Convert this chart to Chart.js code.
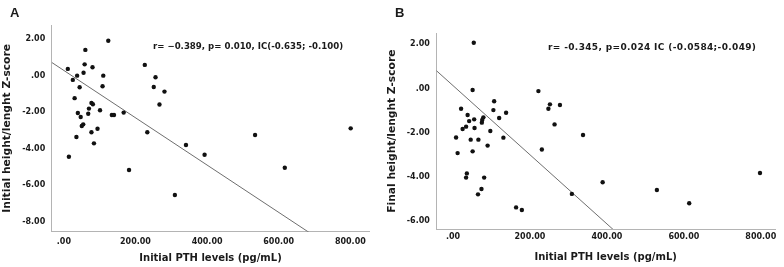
<!DOCTYPE html>
<html>
<head>
<meta charset="utf-8">
<script src="https://cdn.jsdelivr.net/npm/chart.js@4.4.1/dist/chart.umd.min.js"></script>
<style>
    html, body { margin: 0; padding: 0; background: #fff; }
    #wrap { position: relative; width: 784px; height: 267px; overflow: hidden; font-family: "DejaVu Sans", sans-serif; color: #1a1a1a; }
    canvas { position: absolute; top: 0; }
    #chartA { left: 0; }
    #chartB { left: 384px; }
    .panel { position: absolute; font: bold 13px "Liberation Sans", Arial, sans-serif; }
    .note { position: absolute; font-weight: bold; white-space: nowrap; }
</style>
</head>
<body>
<div id="wrap">
    <canvas id="chartA" width="384" height="267"></canvas>
    <canvas id="chartB" width="400" height="267"></canvas>
    <div class="panel" style="left:10px; top:5px;">A</div>
    <div class="panel" style="left:395px; top:5px;">B</div>
    <div class="note" style="left:153px; top:41px; font-size:8.6px;">r= −0.389, p= 0.010, IC(-0.635; -0.100)</div>
    <div class="note" style="left:548px; top:42px; font-size:9px; letter-spacing:0.35px;">r= -0.345, p=0.024 IC (-0.0584;-0.049)</div>
</div>
<script>
// panel A: initial PTH vs initial height z-score
const pthA = [124, 60, 11, 58, 80, 55, 37, 25, 110, 108, 44, 30, 77, 81, 70, 101,
    39, 68, 47, 134, 140, 167, 54, 50, 94, 77, 35, 84, 14, 182, 226, 256, 251,
    281, 267, 233, 310, 341, 393, 534, 617, 801];
const zInitial = [1.90, 1.40, 0.36, 0.61, 0.45, 0.15, -0.01, -0.24, -0.01, -0.59,
    -0.64, -1.24, -1.50, -1.57, -1.81, -1.90, -2.05, -2.09, -2.27, -2.16, -2.16,
    -2.03, -2.67, -2.76, -2.91, -3.10, -3.36, -3.71, -4.44, -5.17, 0.58, -0.10,
    -0.63, -0.88, -1.59, -3.10, -6.53, -3.80, -4.33, -3.25, -5.04, -2.89];

// panel B: initial PTH vs final height z-score
const pthB = [54, 51, 222, 107, 252, 278, 248, 21, 105, 138, 38, 120, 79, 55, 42,
    76, 75, 34, 56, 25, 264, 97, 8, 46, 66, 131, 338, 90, 231, 51, 12, 36, 34,
    81, 74, 65, 164, 179, 309, 389, 530, 614, 798];
const zFinal = [2.07, -0.07, -0.12, -0.58, -0.72, -0.75, -0.92, -0.92, -0.98,
    -1.10, -1.20, -1.34, -1.31, -1.40, -1.48, -1.43, -1.55, -1.73, -1.79, -1.84,
    -1.63, -1.93, -2.22, -2.32, -2.32, -2.23, -2.11, -2.59, -2.77, -2.85, -2.93,
    -3.85, -4.04, -4.04, -4.56, -4.80, -5.39, -5.51, -4.78, -4.25, -4.60, -5.20,
    -3.83];

// fitted lines (intercept, slope)
const fitA = { intercept: 0.275, slope: -0.01293 };
const fitB = { intercept: 0.13, slope: -0.01567 };

const xTicks = [0, 200, 400, 600, 800];
const yTicksA = [2, 0, -2, -4, -6, -8];
const yTicksB = [2, 0, -2, -4, -6];

const xTitle = "Initial PTH levels (pg/mL)";

function formatTick(value) {
    if (value === 0) return ".00";
    return value.toFixed(2);
}

function toPoints(xs, ys) {
    return xs.map(function (x, i) {
        return { x: x, y: ys[i] };
    });
}

function fitLine(fit, xMin, xMax) {
    return [
        { x: xMin, y: fit.intercept + fit.slope * xMin },
        { x: xMax, y: fit.intercept + fit.slope * xMax },
    ];
}

function makeChart(canvasId, cfg) {
    const tickFont = { family: "DejaVu Sans", size: 8, weight: "bold" };
    const xTitleFont = { family: "DejaVu Sans", size: 10, weight: "bold" };
    const yTitleFont = { family: "DejaVu Sans", size: 10.7, weight: "bold" };
    const axisBorder = { display: true, color: "#b4b4b4", width: 1 };

    return new Chart(document.getElementById(canvasId), {
        type: "scatter",
        data: {
            datasets: [
                {
                    data: toPoints(cfg.xs, cfg.ys),
                    backgroundColor: "#111",
                    borderColor: "#111",
                    pointRadius: 2.2,
                    pointBorderWidth: 0,
                },
                {
                    type: "line",
                    data: fitLine(cfg.fit, cfg.xMin, cfg.xMax),
                    borderColor: "#6e6e6e",
                    borderWidth: 1,
                    pointRadius: 0,
                    fill: false,
                },
            ],
        },
        options: {
            responsive: false,
            animation: false,
            events: [],
            layout: {
                padding: { left: 0, top: cfg.top, right: cfg.right, bottom: 0 },
            },
            plugins: {
                legend: { display: false },
                tooltip: { enabled: false },
            },
            scales: {
                x: {
                    type: "linear",
                    min: cfg.xMin,
                    max: cfg.xMax,
                    afterBuildTicks: function (axis) {
                        axis.ticks = xTicks.map(function (v) { return { value: v }; });
                    },
                    afterFit: function (axis) {
                        axis.height = cfg.xHeight;
                    },
                    grid: { display: false, drawTicks: false },
                    border: axisBorder,
                    ticks: {
                        padding: cfg.xTickPad,
                        color: "#1a1a1a",
                        font: tickFont,
                        maxRotation: 0,
                        autoSkip: false,
                        callback: formatTick,
                    },
                    title: {
                        display: true,
                        text: xTitle,
                        color: "#1a1a1a",
                        font: xTitleFont,
                        padding: { top: cfg.xTitlePad, bottom: cfg.xTitlePad },
                    },
                },
                y: {
                    type: "linear",
                    min: cfg.yMin,
                    max: cfg.yMax,
                    afterBuildTicks: function (axis) {
                        axis.ticks = cfg.yTicks.map(function (v) { return { value: v }; });
                    },
                    afterFit: function (axis) {
                        axis.width = cfg.yWidth;
                    },
                    grid: { display: false, drawTicks: false },
                    border: axisBorder,
                    ticks: {
                        padding: 6.5,
                        color: "#1a1a1a",
                        font: tickFont,
                        autoSkip: false,
                        callback: formatTick,
                    },
                    title: {
                        display: true,
                        text: cfg.yTitle,
                        color: "#1a1a1a",
                        font: yTitleFont,
                        padding: { top: cfg.yTitlePad, bottom: 0 },
                    },
                },
            },
        },
    });
}

makeChart("chartA", {
    xs: pthA,
    ys: zInitial,
    fit: fitA,
    xMin: -34,
    xMax: 853,
    yMin: -8.54,
    yMax: 2.76,
    yTicks: yTicksA,
    yTitle: "Initial height/lenght Z-score",
    top: 25,
    right: 14.7,
    xHeight: 35.3,
    yWidth: 51.7,
    xTickPad: 5.5,
    xTitlePad: 2.5,
    yTitlePad: 1,
});

makeChart("chartB", {
    xs: pthB,
    ys: zFinal,
    fit: fitB,
    xMin: -43.4,
    xMax: 837,
    yMin: -6.37,
    yMax: 2.5,
    yTicks: yTicksB,
    yTitle: "Final height/lenght Z-score",
    top: 33.3,
    right: 9,
    xHeight: 38,
    yWidth: 52.3,
    xTickPad: 3.5,
    xTitlePad: 3.5,
    yTitlePad: 2,
});
</script>
</body>
</html>
